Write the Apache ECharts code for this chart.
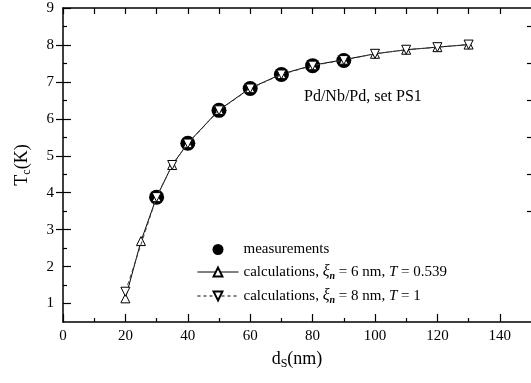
<!DOCTYPE html>
<html>
<head>
<meta charset="utf-8">
<script src="https://cdn.jsdelivr.net/npm/echarts@6/dist/echarts.min.js"></script>
<style>
  html, body { margin: 0; padding: 0; background: #fff; }
  #chart { width: 531px; height: 383px; }
</style>
</head>
<body>
<div id="chart"></div>
<script>
// thickness of the superconducting layer d_S (nm)
const measX = [30, 40, 50, 60, 70, 80, 90]
const measY = [3.88, 5.34, 6.23, 6.82, 7.20, 7.44, 7.58]

const calc1X = [20, 25, 30, 35, 40, 50, 60, 70, 80, 90, 100, 110, 120, 130]
const calc1Y = [1.14, 2.69, 3.88, 4.75, 5.34, 6.24, 6.83, 7.21, 7.45, 7.60, 7.76, 7.87, 7.94, 8.01]

const calc2X = [20, 30, 35, 40, 50, 60, 70, 80, 90, 100, 110, 120, 130]
const calc2Y = [1.32, 3.88, 4.75, 5.33, 6.23, 6.82, 7.20, 7.44, 7.59, 7.76, 7.87, 7.94, 8.01]

const xMajor = [0, 20, 40, 60, 80, 100, 120, 140]
const xMinor = [10, 30, 50, 70, 90, 110, 130]
const yMajor = [1, 2, 3, 4, 5, 6, 7, 8, 9]
const yMinor = [1.5, 2.5, 3.5, 4.5, 5.5, 6.5, 7.5, 8.5]
const rightMajor = [3, 4, 5, 6, 7, 8]
const rightMinor = [3.5, 4.5, 5.5, 6.5, 7.5, 8.5]

const FONT = '"Liberation Serif", "Times New Roman", serif'
const BLACK = '#000'

const zip = (xs, ys) => xs.map((x, i) => [x, ys[i]])

const rich = {
  t: { fontFamily: FONT, fontSize: 15, color: BLACK },
  x: { fontFamily: FONT, fontSize: 16, fontStyle: 'italic', color: BLACK },
  n: { fontFamily: FONT, fontSize: 10, fontStyle: 'italic', fontWeight: 'bold', color: BLACK, padding: [8, 0, 0, 0] },
  i: { fontFamily: FONT, fontSize: 15, fontStyle: 'italic', color: BLACK },
}

const baseX = {
  type: 'value', min: 0, max: 150, splitLine: { show: false },
}
const baseY = {
  type: 'value', min: 0.5, max: 9, splitLine: { show: false },
}

const chart = echarts.init(document.getElementById('chart'))
chart.setOption({
  animation: false,
  backgroundColor: '#fff',
  grid: { left: 63, right: -2, top: 8, bottom: 61 },
  xAxis: [
    {
      ...baseX,
      position: 'bottom',
      name: '{a|d}{s|S}{a|(nm)}',
      nameLocation: 'middle',
      nameGap: 27,
      nameTextStyle: {
        rich: {
          a: { fontFamily: FONT, fontSize: 18, color: BLACK },
          s: { fontFamily: FONT, fontSize: 12, color: BLACK, padding: [9, 0, 0, 0] },
        },
      },
      axisLine: { lineStyle: { color: BLACK, width: 1.5 } },
      axisTick: { inside: true, length: 8, customValues: xMajor, lineStyle: { color: BLACK, width: 1.2 } },
      axisLabel: { customValues: xMajor, margin: 7, fontFamily: FONT, fontSize: 15, color: BLACK },
    },
    {
      ...baseX,
      position: 'bottom',
      axisLine: { show: false },
      axisTick: { inside: true, length: 4, customValues: xMinor, lineStyle: { color: BLACK, width: 1.2 } },
      axisLabel: { show: false },
    },
    {
      ...baseX,
      position: 'top',
      axisLine: { lineStyle: { color: BLACK, width: 1.5 } },
      axisTick: { inside: true, length: 6, customValues: xMinor.concat(xMajor), lineStyle: { color: BLACK, width: 1.2 } },
      axisLabel: { show: false },
    },
  ],
  yAxis: [
    {
      ...baseY,
      position: 'left',
      name: '{a|T}{s|c}{a|(K)}',
      nameLocation: 'middle',
      nameRotate: 90,
      nameGap: 30,
      nameTextStyle: {
        rich: {
          a: { fontFamily: FONT, fontSize: 18, color: BLACK },
          s: { fontFamily: FONT, fontSize: 12, color: BLACK, padding: [9, 0, 0, 0] },
        },
      },
      axisLine: { lineStyle: { color: BLACK, width: 1.5 } },
      axisTick: { inside: true, length: 8, customValues: yMajor, lineStyle: { color: BLACK, width: 1.2 } },
      axisLabel: { customValues: yMajor, margin: 9, fontFamily: FONT, fontSize: 15, color: BLACK },
    },
    {
      ...baseY,
      position: 'left',
      axisLine: { show: false },
      axisTick: { inside: true, length: 4, customValues: yMinor, lineStyle: { color: BLACK, width: 1.2 } },
      axisLabel: { show: false },
    },
    {
      ...baseY,
      position: 'right',
      axisLine: { show: false },
      axisTick: { inside: true, length: 7, customValues: rightMajor, lineStyle: { color: BLACK, width: 1.2 } },
      axisLabel: { show: false },
    },
    {
      ...baseY,
      position: 'right',
      axisLine: { show: false },
      axisTick: { inside: true, length: 4, customValues: rightMinor, lineStyle: { color: BLACK, width: 1.2 } },
      axisLabel: { show: false },
    },
  ],
  legend: {
    orient: 'vertical',
    left: 192,
    top: 237,
    itemWidth: 41,
    itemHeight: 11,
    itemGap: 7,
    selectedMode: false,
    textStyle: { rich },
    formatter: (name) => {
      if (name === 'measurements') return '{t|measurements}'
      if (name === 'calc1') return '{t|calculations, }{x|ξ}{n|n}{t| = 6 nm, }{i|T}{t| = 0.539}'
      return '{t|calculations, }{x|ξ}{n|n}{t| = 8 nm, }{i|T}{t| = 1}'
    },
    data: [
      { name: 'measurements', icon: 'circle', itemStyle: { color: BLACK, opacity: 1 } },
      { name: 'calc1', lineStyle: { width: 1, color: BLACK, opacity: 1 } },
      { name: 'calc2', lineStyle: { width: 1, color: BLACK, opacity: 1, type: [3, 3] } },
    ],
  },
  graphic: [
    {
      type: 'text',
      left: 304,
      top: 89,
      style: { text: 'Pd/Nb/Pd, set PS1', fontFamily: FONT, fontSize: 16, fill: BLACK },
    },
  ],
  series: [
    {
      name: 'measurements',
      type: 'scatter',
      symbol: 'circle',
      symbolSize: 15,
      itemStyle: { color: BLACK, opacity: 1 },
      data: zip(measX, measY),
      z: 2,
    },
    {
      name: 'calc1',
      type: 'line',
      symbol: 'triangle',
      symbolSize: 9,
      showAllSymbol: true,
      lineStyle: { color: BLACK, width: 1 },
      itemStyle: { color: '#fff', borderColor: BLACK, borderWidth: 1 },
      data: zip(calc1X, calc1Y),
      z: 3,
    },
    {
      name: 'calc2',
      type: 'line',
      symbol: 'triangle',
      symbolRotate: 180,
      symbolSize: 9,
      showAllSymbol: true,
      lineStyle: { color: '#444', width: 1, type: [4, 3] },
      itemStyle: { color: '#fff', borderColor: BLACK, borderWidth: 1 },
      data: zip(calc2X, calc2Y),
      z: 4,
    },
  ],
})
</script>
</body>
</html>
